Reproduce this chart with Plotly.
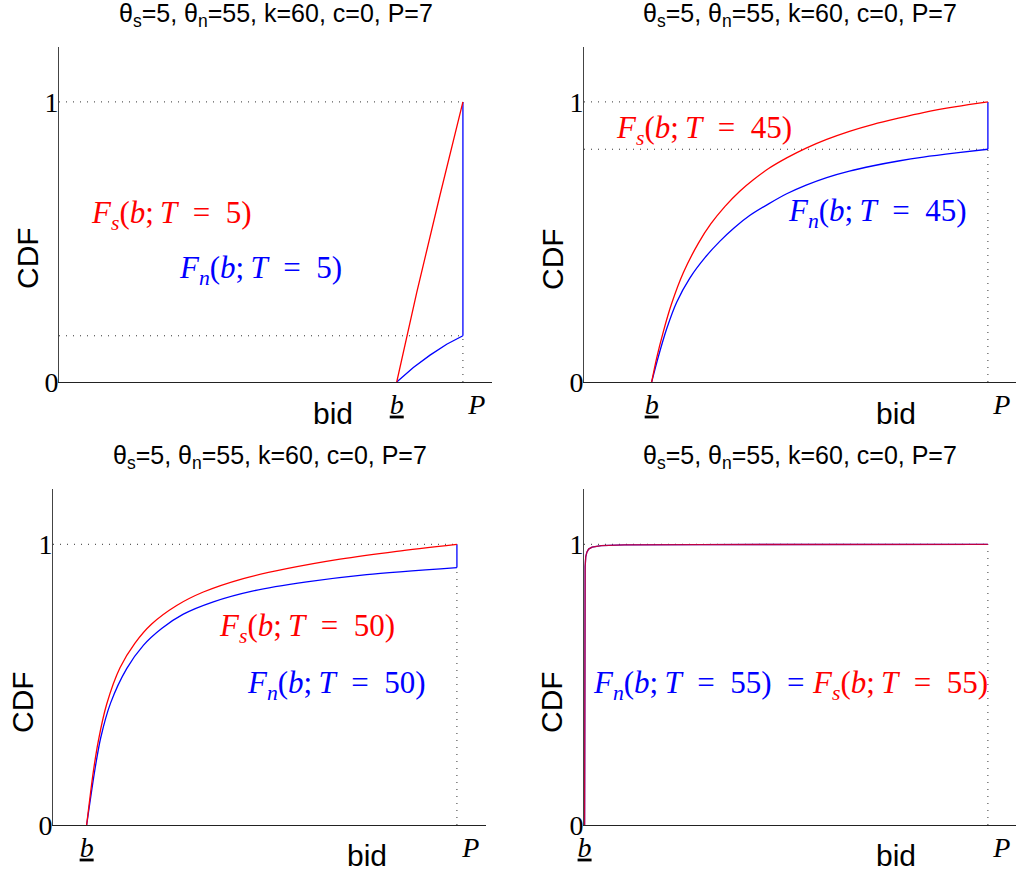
import plotly.graph_objects as go

# ---------------- data ----------------
P = 7.0
T_values = [5, 45, 50, 55]

# T = 5
bid_s_T5 = [5.853, 6.2, 6.6, 7.0]
Fs_T5 = [0.0, 0.32, 0.665, 1.0]
bid_n_T5 = [5.853, 6.141, 6.430, 6.719, 7.0]
Fn_T5 = [0.0, 0.052, 0.096, 0.135, 0.165]

# T = 45
bid_s_T45 = [1.173, 1.259, 1.375, 1.519, 1.721, 1.981, 2.2, 2.444, 2.7, 2.935, 3.2, 3.513,
             3.85, 4.206, 4.6, 5.014, 5.45, 5.881, 6.45, 7.0]
Fs_T45 = [0.0, 0.085, 0.18, 0.28, 0.39, 0.495, 0.565, 0.627, 0.681, 0.722, 0.762, 0.800,
          0.835, 0.866, 0.895, 0.920, 0.942, 0.962, 0.983, 1.0]
bid_n_T45 = [1.173, 1.288, 1.433, 1.606, 1.837, 2.1, 2.357, 2.6, 2.877, 3.2, 3.513, 3.85,
             4.206, 4.6, 5.014, 5.45, 5.881, 6.45, 7.0]
Fn_T45 = [0.0, 0.09, 0.19, 0.285, 0.372, 0.445, 0.503, 0.550, 0.595, 0.636, 0.672, 0.703,
          0.730, 0.753, 0.772, 0.789, 0.803, 0.818, 0.831]

# T = 50
bid_s_T50 = [0.583, 0.699, 0.786, 0.930, 1.161, 1.421, 1.710, 2.143, 2.605, 3.298, 4.050, 4.974, 5.956, 7.0]
Fs_T50 = [0.0, 0.19, 0.30, 0.43, 0.56, 0.648, 0.716, 0.782, 0.830, 0.878, 0.913, 0.947, 0.975, 1.0]
bid_n_T50 = [0.583, 0.728, 0.826, 0.999, 1.277, 1.566, 1.883, 2.259, 2.779, 3.472, 4.397, 5.436, 7.0]
Fn_T50 = [0.0, 0.20, 0.31, 0.435, 0.557, 0.64, 0.70, 0.751, 0.795, 0.834, 0.866, 0.892, 0.917]

# T = 55
bid_T55 = [0.01, 0.014, 0.02, 0.03, 0.05, 0.08, 0.14, 0.3, 0.7, 2.0, 7.0]
Fs_T55 = [0.0, 0.80, 0.92, 0.955, 0.972, 0.983, 0.990, 0.995, 0.998, 0.999, 1.0]
Fn_T55 = [0.0, 0.80, 0.92, 0.955, 0.972, 0.983, 0.990, 0.995, 0.998, 0.999, 1.0]

title_text = "θ<sub>s</sub>=5, θ<sub>n</sub>=55, k=60, c=0, P=7"

# ---------------- layout geometry ----------------
W, H = 1016, 877
def px_x(v):
    return v / W
def px_y(v):
    return 1 - v / H

panels = [
    dict(x0=59, x1=492, y0=47, y1=382, xr=7.504, yr=1.196),
    dict(x0=584, x1=1016, y0=47, y1=382, xr=7.487, yr=1.196),
    dict(x0=53, x1=486, y0=489, y1=825, xr=7.504, yr=1.197),
    dict(x0=584, x1=1016, y0=489, y1=825, xr=7.487, yr=1.197),
]

RED = "#ff0000"
BLUE = "#0000ff"
DOT = dict(color="#333333", width=1, dash="1px,6px")
SERIF = "Liberation Serif"
SANS = "Liberation Sans"

fig = go.Figure()

def ax_names(i):
    s = "" if i == 0 else str(i + 1)
    return "x" + s, "y" + s

series = [
    (bid_s_T5, Fs_T5, bid_n_T5, Fn_T5),
    (bid_s_T45, Fs_T45, bid_n_T45, Fn_T45),
    (bid_s_T50, Fs_T50, bid_n_T50, Fn_T50),
    (bid_T55, Fs_T55, bid_T55, Fn_T55),
]
hline_atom = [True, True, False, False]

for i, (bs, fs, bn, fn) in enumerate(series):
    xa, ya = ax_names(i)
    # dotted guide lines
    fig.add_trace(go.Scatter(x=[0, P], y=[fs[-1], fs[-1]], mode="lines", line=DOT,
                             xaxis=xa, yaxis=ya, showlegend=False, hoverinfo="skip"))
    if hline_atom[i]:
        fig.add_trace(go.Scatter(x=[0, P], y=[fn[-1], fn[-1]], mode="lines", line=DOT,
                                 xaxis=xa, yaxis=ya, showlegend=False, hoverinfo="skip"))
    fig.add_trace(go.Scatter(x=[P, P], y=[0, fn[-1]], mode="lines", line=DOT,
                             xaxis=xa, yaxis=ya, showlegend=False, hoverinfo="skip"))
    shape = "linear" if i in (0, 3) else "spline"
    # blue: F_n with jump at P
    fig.add_trace(go.Scatter(x=bn, y=fn, mode="lines",
                             line=dict(color=BLUE, width=1.3, shape=shape, smoothing=0.8),
                             xaxis=xa, yaxis=ya, showlegend=False))
    fig.add_trace(go.Scatter(x=[bn[-1], bn[-1]], y=[fn[-1], fs[-1]], mode="lines",
                             line=dict(color=BLUE, width=1.3),
                             xaxis=xa, yaxis=ya, showlegend=False))
    # red: F_s
    fig.add_trace(go.Scatter(x=bs, y=fs, mode="lines",
                             line=dict(color=RED, width=1.3, shape=shape, smoothing=0.8),
                             opacity=0.75 if i == 3 else 1.0,
                             xaxis=xa, yaxis=ya, showlegend=False))

layout = dict(width=W, height=H, margin=dict(l=0, r=0, t=0, b=0),
              paper_bgcolor="white", plot_bgcolor="white", showlegend=False)

blows = [bid_s_T5[0], bid_s_T45[0], bid_s_T50[0], bid_T55[0]]
for i, p in enumerate(panels):
    s = "" if i == 0 else str(i + 1)
    layout["xaxis" + s] = dict(
        domain=[px_x(p["x0"]), px_x(p["x1"])], range=[0, p["xr"]],
        anchor="y" + s, showline=True, linecolor="#222222", linewidth=1,
        showgrid=False, zeroline=False, ticks="",
        tickvals=[blows[i], P],
        ticktext=["<u><i>b</i></u>", "&nbsp;&nbsp;&nbsp;&nbsp;<i>P</i>"],
        tickfont=dict(family=SERIF, size=28, color="black"),
        ticklabelstandoff=-3,
        automargin=False, fixedrange=True)
    layout["yaxis" + s] = dict(
        domain=[px_y(p["y1"]), px_y(p["y0"])], range=[0, p["yr"]],
        anchor="x" + s, showline=True, linecolor="#444444", linewidth=1,
        showgrid=False, zeroline=False, ticks="",
        tickvals=[0, 1], ticktext=["0", "1"],
        tickfont=dict(family=SERIF, size=28, color="black"),
        ticklabelstandoff=-6,
        automargin=False, fixedrange=True)

fig.update_layout(**layout)

# ---------------- text ----------------
ann = []
title_y = [15, 15, 457, 457]
title_x = [275.5, 800, 269.5, 800]
cdf_pos = [(28, 258), (552, 259), (22, 702), (551, 702)]
bid_pos = [(333, 413), (896, 413), (367, 855), (896, 855)]
for i, p in enumerate(panels):
    ann.append(dict(x=px_x(title_x[i]), y=px_y(title_y[i]), xref="paper", yref="paper",
                    text=title_text, showarrow=False, xanchor="center", yanchor="middle",
                    font=dict(family=SANS, size=25, color="black")))
    ann.append(dict(x=px_x(cdf_pos[i][0]), y=px_y(cdf_pos[i][1]), xref="paper", yref="paper",
                    text="CDF", textangle=-90, showarrow=False, xanchor="center", yanchor="middle",
                    font=dict(family=SANS, size=30, color="black")))
    ann.append(dict(x=px_x(bid_pos[i][0]), y=px_y(bid_pos[i][1]), xref="paper", yref="paper",
                    text="bid", showarrow=False, xanchor="center", yanchor="middle",
                    font=dict(family=SANS, size=30, color="black")))

def ftext(sub, T, trail=""):
    return ("<i>F</i><sub><i>%s</i></sub>(<i>b</i>;&#8201;<i>T</i>&nbsp;&nbsp;=&nbsp;&nbsp;%d)%s"
            % (sub, T, trail))

labels = [
    # (panel, sub, T, x, y, color, trail)
    (0, "s", 5, 0.52, 0.596, RED, ""),
    (0, "n", 5, 2.045, 0.40, BLUE, ""),
    (1, "s", 45, 0.52, 0.90, RED, ""),
    (1, "n", 45, 3.50, 0.604, BLUE, ""),
    (2, "s", 50, 2.842, 0.702, RED, ""),
    (2, "n", 50, 3.327, 0.499, BLUE, ""),
    (3, "n", 55, 0.121, 0.499, BLUE, "&nbsp;&nbsp;="),
    (3, "s", 55, 3.917, 0.499, RED, ""),
]
for (pi, sub, T, x, y, col, trail) in labels:
    xa, ya = ax_names(pi)
    ann.append(dict(x=x, y=y, xref=xa, yref=ya, text=ftext(sub, T, trail),
                    showarrow=False, xanchor="left", yanchor="middle",
                    font=dict(family=SERIF, size=31, color=col)))

fig.update_layout(annotations=ann)
fig.write_html("out.html", config={"displayModeBar": False},
               post_script="document.body.style.margin='0';document.body.style.overflow='hidden';")
